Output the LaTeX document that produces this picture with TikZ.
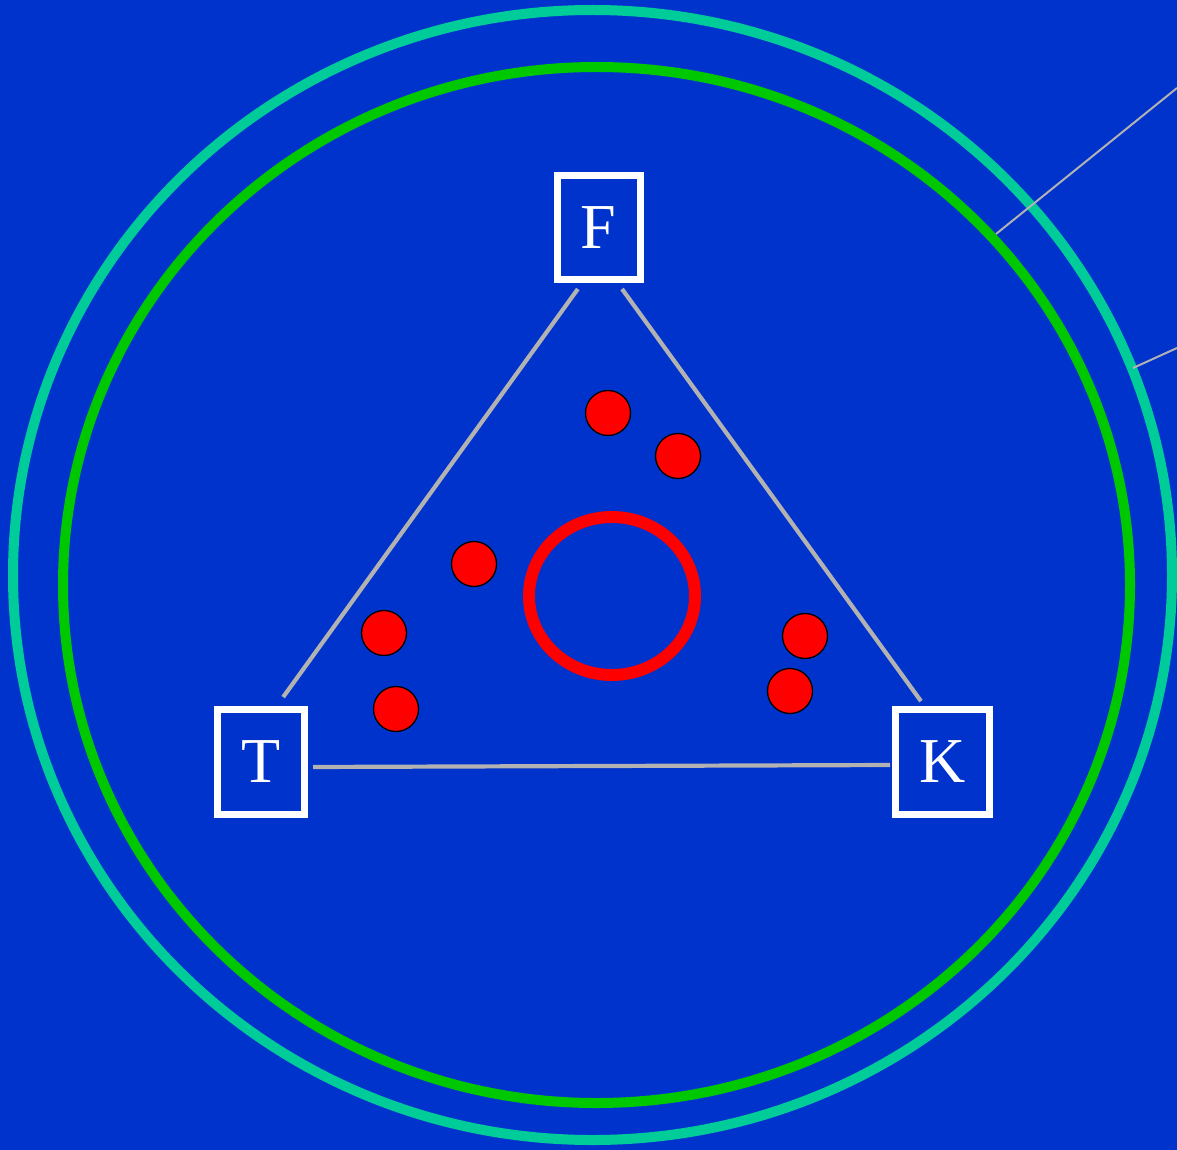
\documentclass[tikz,border=0pt]{standalone}
\usepackage{fontspec}
\setmainfont{Liberation Serif}
\usepackage{xcolor}
\usepackage{tikz}
\usetikzlibrary{calc}
\definecolor{slideblue}{RGB}{0,51,204}
\definecolor{ringteal}{RGB}{0,204,153}
\definecolor{ringgreen}{RGB}{0,200,0}
\definecolor{linkgray}{RGB}{178,178,178}
\definecolor{dotred}{RGB}{255,0,0}

\begin{document}
\begin{tikzpicture}[x=1pt,y=-1pt,
		cornerbox/.style={draw=white,line width=7pt,text=white,inner sep=0pt,
			minimum width=87pt,minimum height=105pt,
			font=\fontsize{64}{64}\selectfont},
		link/.style={linkgray,line width=4.2pt},
		ion/.style={fill=dotred,draw=black,line width=1.3pt}]
	\fill[slideblue] (0,0) rectangle (1177,1150);
	\useasboundingbox (0,0) rectangle (1177,1150);
	
	% Outer rings.
	\draw[ringteal,line width=10pt] (592.5,575) ellipse (579.5 and 565);
	\draw[ringgreen,line width=10pt] (596.5,585) ellipse (533.5 and 518);
	\draw[linkgray,line width=2pt] (996,234)--(1177,88);
	\draw[linkgray,line width=2pt] (1133,368)--(1177,348);
	
	% The three corners.
	\node[cornerbox,minimum width=83pt,minimum height=103pt] (F) at (598.5,227.5) {F};
	\node[cornerbox] (T) at (261,762) {T};
	\node[cornerbox,minimum width=94pt] (K) at (942.5,762) {K};
	
	\draw[link,shorten <=8pt,shorten >=11pt] ([xshift=-16pt]F.south)--([xshift=15.7pt]T.north);
	\draw[link,shorten <=8pt,shorten >=6pt] ([xshift=18.8pt]F.south)--([xshift=-18pt]K.north);
	\draw[link,shorten <=5pt,shorten >=2pt] ([yshift=-5pt]T.east)--([yshift=-3pt]K.west);
	
	% Centre ring and the dots round it.
	\draw[dotred,line width=12pt] (612,596) ellipse (83 and 79);
	\foreach \p in {(608,413),(678,456),(474,564),(384,633),(396,709),(805,636),(790,691)}
		\draw[ion] \p circle (22.5pt);
\end{tikzpicture}
\end{document}
